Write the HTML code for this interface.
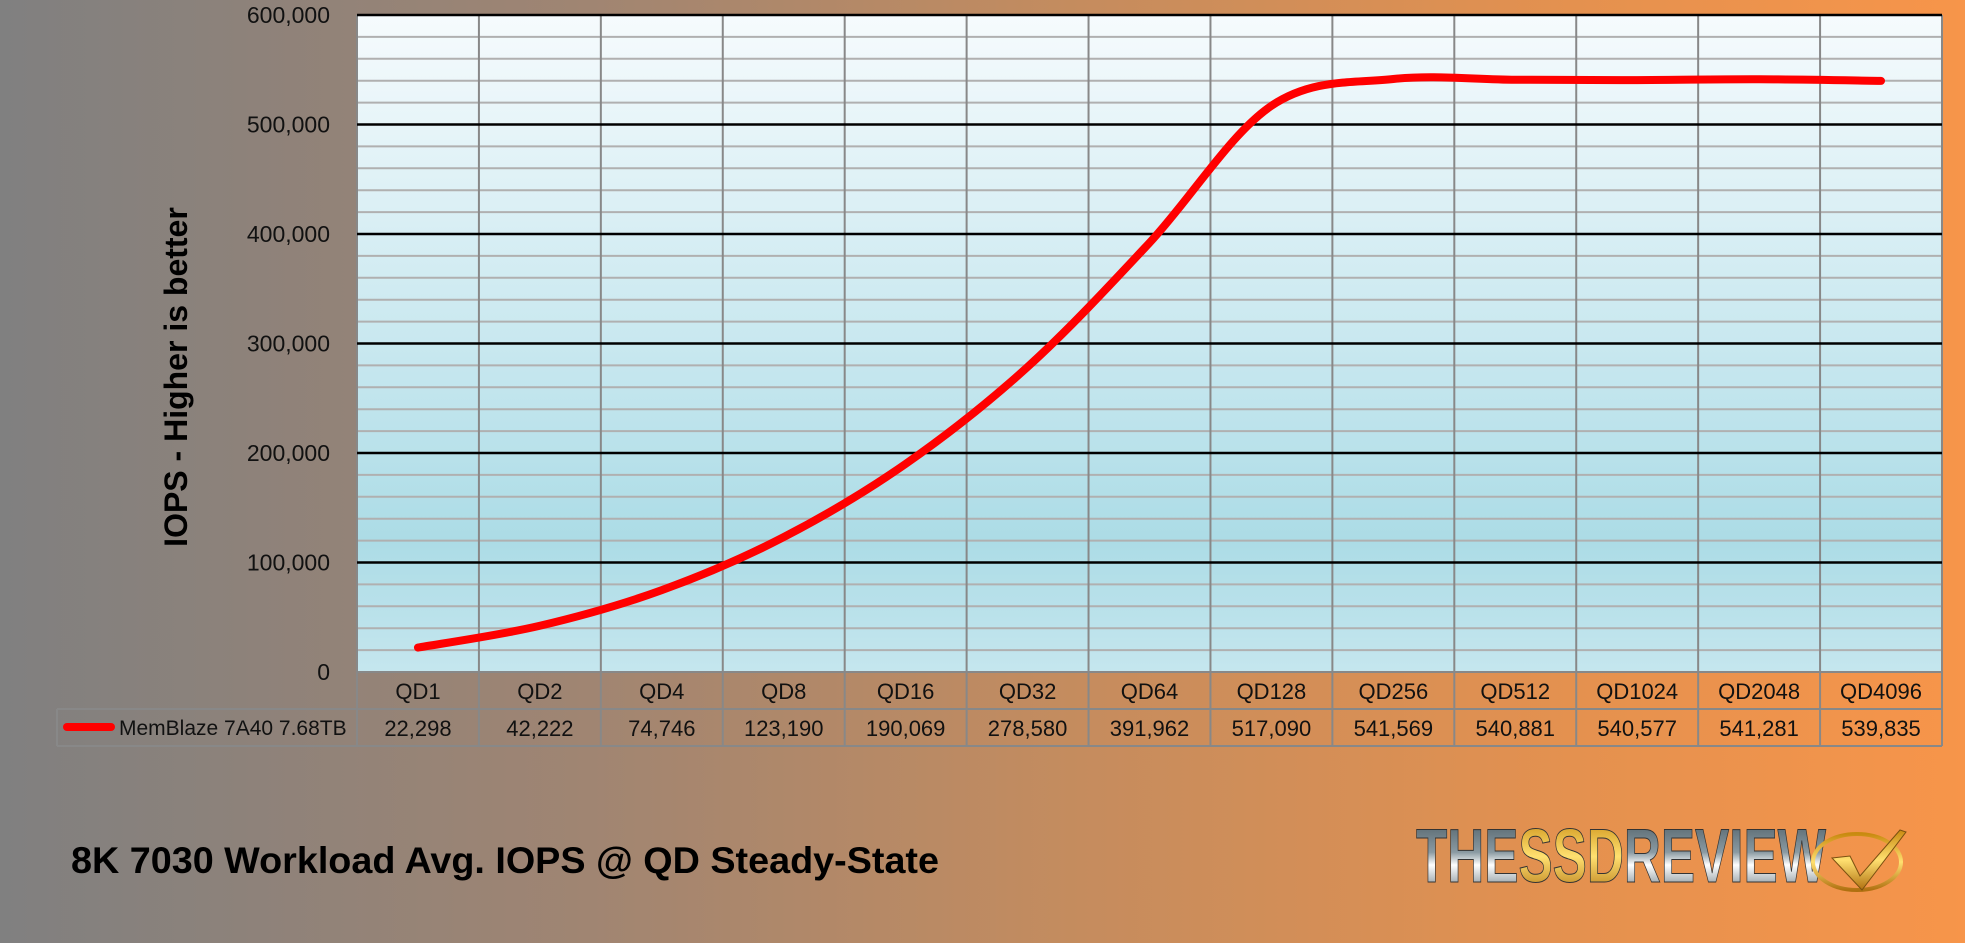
<!DOCTYPE html>
<html><head><meta charset="utf-8"><style>
html,body{margin:0;padding:0}
body{width:1965px;height:943px;overflow:hidden;background:linear-gradient(to right,#808080 0%,#a08572 30%,#c58c5e 55%,#e4914f 80%,#f7954a 100%);font-family:"Liberation Sans",sans-serif;position:relative}
svg{position:absolute;left:0;top:0}
</style></head><body>
<svg width="1965" height="943" viewBox="0 0 1965 943">
<defs>
<linearGradient id="pf" x1="0" y1="0" x2="0" y2="1">
<stop offset="0" stop-color="#f6fbfd"/>
<stop offset="0.55" stop-color="#c4e6ee"/>
<stop offset="0.8" stop-color="#acdce6"/>
<stop offset="1" stop-color="#c5e6ee"/>
</linearGradient>
<linearGradient id="chrome" x1="0" y1="0" x2="0" y2="1">
<stop offset="0" stop-color="#4a5a62"/><stop offset="0.45" stop-color="#8a9aa2"/><stop offset="0.6" stop-color="#ffffff"/><stop offset="1" stop-color="#55656d"/>
</linearGradient>
<linearGradient id="gold" x1="0" y1="0" x2="0" y2="1">
<stop offset="0" stop-color="#c98a10"/><stop offset="0.5" stop-color="#ffe070"/><stop offset="1" stop-color="#b07010"/>
</linearGradient>
</defs>
<rect x="357" y="15" width="1585" height="657" fill="url(#pf)"/>
<g id="grid"></g>
<path id="curve" fill="none" stroke="#ff0000" stroke-width="8" stroke-linecap="round" stroke-linejoin="round"/>
<g id="labels" font-size="22" fill="#111"></g>
<text transform="translate(187,377) rotate(-90)" text-anchor="middle" font-size="32" font-weight="bold" fill="#000">IOPS - Higher is better</text>
<line x1="67" y1="727" x2="111" y2="727" stroke="#ff0000" stroke-width="8" stroke-linecap="round"/>
<text x="119" y="735" font-size="21" fill="#111">MemBlaze 7A40 7.68TB</text>
<text x="71" y="873" font-size="37" font-weight="bold" fill="#000" textLength="868" lengthAdjust="spacingAndGlyphs">8K 7030 Workload Avg. IOPS @ QD Steady-State</text>
<text x="1416" y="882" font-size="76" font-weight="bold" fill="url(#chrome)" stroke="#333" stroke-width="1" textLength="410" lengthAdjust="spacingAndGlyphs">THE<tspan fill="url(#gold)">SSD</tspan>REVIEW</text>
<ellipse cx="1857" cy="862" rx="44" ry="28" fill="none" stroke="url(#gold)" stroke-width="4"/>
<path d="M1832 858 L1850 856 L1860 876 L1900 830 L1906 832 L1862 890 Z" fill="url(#gold)" stroke="#7a5010" stroke-width="1"/>
</svg>
<script>
var L=357,R=1942,T=15,B=672,W=(R-L)/13;
var cats=["QD1","QD2","QD4","QD8","QD16","QD32","QD64","QD128","QD256","QD512","QD1024","QD2048","QD4096"];
var vals=[22298,42222,74746,123190,190069,278580,391962,517090,541569,540881,540577,541281,539835];
var g=document.getElementById('grid'),lab=document.getElementById('labels'),s='';
function yv(v){return B-v/600000*(B-T);}
for(var k=1;k<30;k++){if(k%5==0)continue;var y=yv(k*20000);s+='<line x1="'+L+'" x2="'+R+'" y1="'+y+'" y2="'+y+'" stroke="#b0b0b0" stroke-width="2"/>';}
for(var i=1;i<13;i++){var x=L+W*i;s+='<line x1="'+x+'" x2="'+x+'" y1="'+T+'" y2="746" stroke="#888" stroke-width="2"/>';}
s+='<line x1="'+R+'" x2="'+R+'" y1="'+T+'" y2="746" stroke="#888" stroke-width="2"/>';
s+='<line x1="'+L+'" x2="'+L+'" y1="'+T+'" y2="746" stroke="#888" stroke-width="2"/>';
for(var k=1;k<=6;k++){var y=yv(k*100000);s+='<line x1="'+L+'" x2="'+R+'" y1="'+y+'" y2="'+y+'" stroke="#000" stroke-width="2.5"/>';}
s+='<line x1="'+L+'" x2="'+R+'" y1="'+B+'" y2="'+B+'" stroke="#888" stroke-width="2"/>';
s+='<line x1="57" x2="'+R+'" y1="709" y2="709" stroke="#888" stroke-width="2"/>';
s+='<line x1="57" x2="'+R+'" y1="746" y2="746" stroke="#888" stroke-width="2"/>';
s+='<line x1="57" x2="57" y1="709" y2="746" stroke="#888" stroke-width="2"/>';
g.innerHTML=s;
var t='';
for(var k=0;k<=6;k++){var y=yv(k*100000)+8;var txt=k==0?'0':(k*100000).toLocaleString('en-US');t+='<text x="330" y="'+y+'" text-anchor="end" font-size="23">'+txt+'</text>';}
var pts=[];
for(var i=0;i<13;i++){var x=L+W*(i+0.5);t+='<text x="'+x+'" y="699" text-anchor="middle">'+cats[i]+'</text>';t+='<text x="'+x+'" y="736" text-anchor="middle">'+vals[i].toLocaleString('en-US')+'</text>';pts.push([x,yv(vals[i])]);}
lab.innerHTML=t;
var d='M'+pts[0][0]+' '+pts[0][1];
for(var i=0;i<pts.length-1;i++){var p0=pts[Math.max(0,i-1)],p1=pts[i],p2=pts[i+1],p3=pts[Math.min(pts.length-1,i+2)];
var c1=[p1[0]+(p2[0]-p0[0])/6,p1[1]+(p2[1]-p0[1])/6],c2=[p2[0]-(p3[0]-p1[0])/6,p2[1]-(p3[1]-p1[1])/6];
d+=' C'+c1[0]+' '+c1[1]+' '+c2[0]+' '+c2[1]+' '+p2[0]+' '+p2[1];}
document.getElementById('curve').setAttribute('d',d);
</script>
</body></html>
